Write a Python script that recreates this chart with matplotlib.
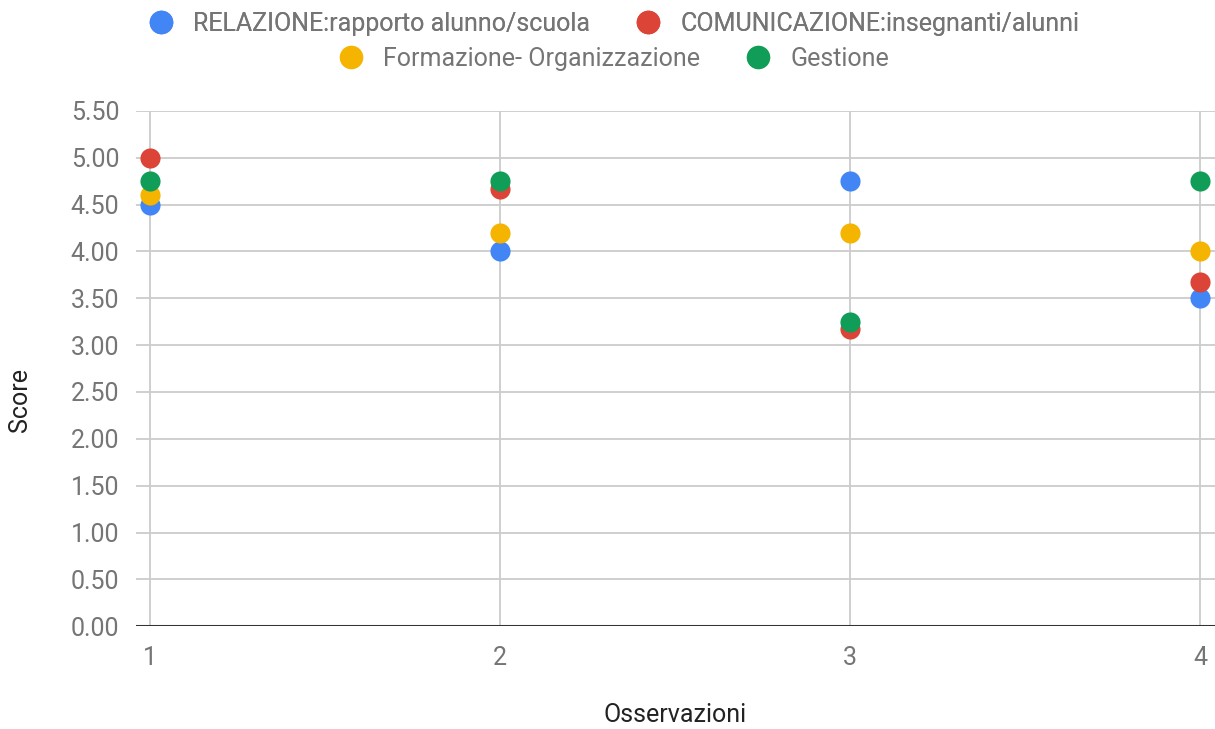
import matplotlib.pyplot as plt
from matplotlib.lines import Line2D

plt.rcParams['font.family'] = ['Roboto', 'DejaVu Sans']

# data
osservazioni = [1, 2, 3, 4]
relazione = [4.50, 4.00, 4.75, 3.50]
comunicazione = [5.00, 4.67, 3.17, 3.67]
formazione = [4.60, 4.20, 4.20, 4.00]
gestione = [4.75, 4.75, 3.25, 4.75]

labels = [
    "RELAZIONE:rapporto alunno/scuola",
    "COMUNICAZIONE:insegnanti/alunni",
    "Formazione- Organizzazione",
    "Gestione",
]
colors = ["#4285f4", "#db4437", "#f4b400", "#0f9d58"]
series = [relazione, comunicazione, formazione, gestione]
yticks = [0, 0.5, 1, 1.5, 2, 2.5, 3, 3.5, 4, 4.5, 5, 5.5]

txt = "#757575"
fs = 18

fig = plt.figure(figsize=(12.15, 7.29), dpi=100)
ax = fig.add_axes([0.112, 0.141, 0.888, 0.707])

for vals, c in zip(series, colors):
    ax.scatter(osservazioni, vals, s=210, color=c, zorder=3, linewidths=0)

ax.set_xlim(0.96, 4.043)
ax.set_ylim(0, 5.5)
ax.set_xticks(osservazioni)
ax.set_yticks(yticks)
ax.set_yticklabels([f"{v:.2f}" for v in yticks])
ax.grid(True, color="#cccccc", linewidth=1.3, zorder=0)
ax.axhline(0, color="#333333", linewidth=2.2, zorder=2)
for s in ax.spines.values():
    s.set_visible(False)
ax.tick_params(length=0, labelsize=fs, labelcolor=txt, pad=12)
ax.tick_params(axis="x", pad=14)

# axis titles placed where they sit in the original
fig.text(675 / 1215, 1 - 715 / 729, "Osservazioni", fontsize=fs,
         color="#222222", ha="center", va="center")
fig.text(20 / 1215, 1 - 400 / 729, "Score", fontsize=fs, color="#222222",
         ha="center", va="center", rotation=90)

# legend in two centered rows, like the original
def handle(c):
    return Line2D([], [], marker="o", linestyle="", markersize=17,
                  markerfacecolor=c, markeredgewidth=0)

leg1 = fig.legend([handle(colors[0]), handle(colors[1])], labels[:2],
                  loc="center", bbox_to_anchor=(0.5, 1 - 24 / 729), ncol=2,
                  frameon=False, fontsize=fs, handletextpad=0.3,
                  columnspacing=1.3, labelcolor=txt)
fig.legend([handle(colors[2]), handle(colors[3])], labels[2:],
           loc="center", bbox_to_anchor=(0.5, 1 - 59 / 729), ncol=2,
           frameon=False, fontsize=fs, handletextpad=0.3,
           columnspacing=1.3, labelcolor=txt)
fig.add_artist(leg1)

fig.savefig("out.png", dpi=100)
